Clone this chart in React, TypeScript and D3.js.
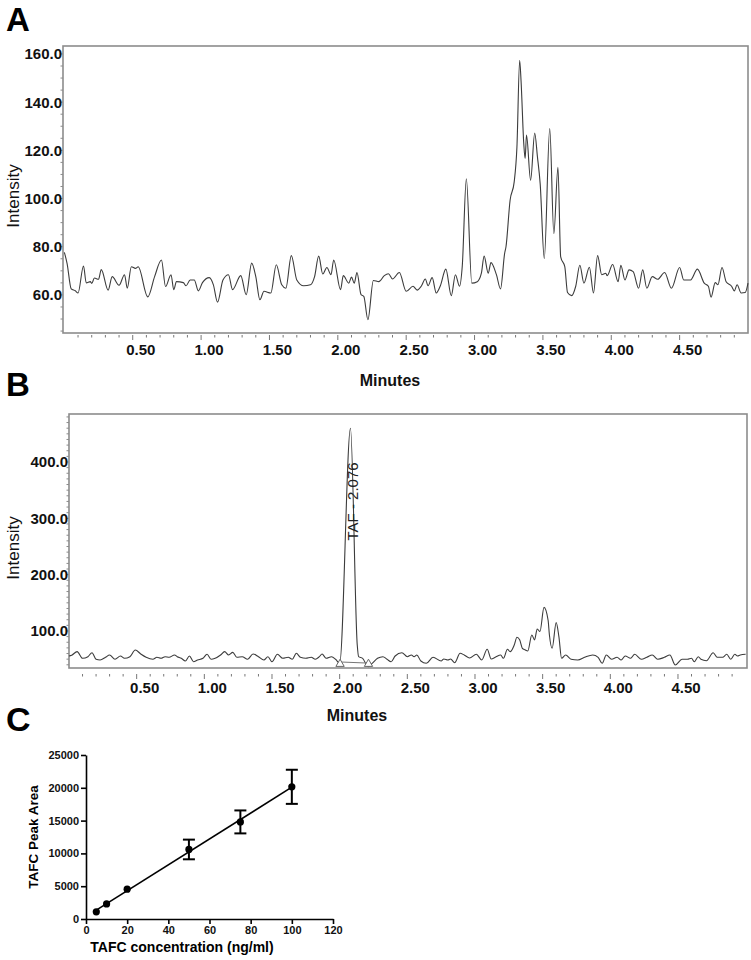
import * as d3 from "d3";
import { useEffect, useRef } from "react";

// panel A: chromatogram of the blank / matrix
const timesA = [0, 0.02, 0.05, 0.08, 0.1, 0.14, 0.16, 0.19, 0.2, 0.22, 0.25, 0.27, 0.32, 0.35, 0.4, 0.44, 0.46, 0.49, 0.52, 0.54, 0.61, 0.66, 0.71, 0.74, 0.78, 0.8, 0.82, 0.87, 0.89, 0.92, 0.95, 0.98, 1.01, 1.06, 1.09, 1.12, 1.16, 1.2, 1.23, 1.29, 1.33, 1.37, 1.4, 1.43, 1.46, 1.51, 1.55, 1.59, 1.62, 1.66, 1.7, 1.75, 1.8, 1.83, 1.86, 1.89, 1.92, 1.95, 1.97, 2.02, 2.04, 2.08, 2.1, 2.12, 2.14, 2.17, 2.19, 2.22, 2.26, 2.3, 2.34, 2.37, 2.4, 2.45, 2.5, 2.55, 2.58, 2.61, 2.64, 2.66, 2.69, 2.72, 2.75, 2.79, 2.83, 2.86, 2.89, 2.91, 2.94, 2.98, 3.02, 3.05, 3.07, 3.1, 3.12, 3.16, 3.19, 3.22, 3.23, 3.26, 3.29, 3.31, 3.33, 3.34, 3.36, 3.37, 3.38, 3.41, 3.44, 3.46, 3.48, 3.51, 3.55, 3.58, 3.61, 3.63, 3.66, 3.68, 3.71, 3.74, 3.77, 3.8, 3.84, 3.87, 3.9, 3.93, 3.96, 3.97, 4.01, 4.05, 4.07, 4.1, 4.13, 4.16, 4.2, 4.23, 4.26, 4.3, 4.34, 4.39, 4.44, 4.5, 4.53, 4.58, 4.63, 4.68, 4.71, 4.73, 4.76, 4.78, 4.81, 4.84, 4.88, 4.9, 4.92, 4.95, 4.98, 5.0];
const intensityA = [77.7, 73, 62.5, 61.7, 60.8, 72, 65, 65.5, 64.8, 67, 66.5, 70.5, 62, 67.6, 64, 68.4, 62.8, 71.7, 71, 71.7, 59.2, 67.6, 74.5, 63.5, 68.4, 62.2, 65.5, 65.1, 63.8, 66.2, 66.2, 61.7, 65.1, 67.2, 64.2, 57, 66.2, 68.4, 62.2, 68, 60.1, 73.2, 67.6, 58, 61.5, 60.8, 72.5, 64.2, 62.8, 76.3, 66.2, 63.8, 64.2, 67.6, 76.1, 68.7, 71.4, 68.4, 74.5, 62.2, 68, 64.9, 67.4, 64.9, 69.3, 60.1, 59.4, 49.7, 66, 65.5, 68, 68.8, 66.6, 69.3, 61.5, 63.6, 62, 63.6, 66.6, 63.8, 67.2, 60.8, 63.8, 70.7, 59.7, 68.4, 63.6, 71.8, 108.2, 64.9, 65.5, 69, 76.1, 69, 73.4, 68.4, 62.5, 77.2, 80, 99.3, 106.9, 121.4, 157.4, 149, 122.8, 116.6, 126.3, 107.6, 127.2, 117.3, 106.2, 75.1, 129, 85.4, 113, 75.8, 71.7, 61, 59.7, 63.6, 72.3, 64.9, 71.5, 60.8, 76.3, 68.4, 69, 68, 72.6, 65.5, 72.3, 66.2, 70.4, 69.7, 62.8, 70.4, 62.8, 67.6, 66.5, 69.3, 62.8, 71.4, 66.2, 66.2, 70.7, 64.9, 63.6, 59.1, 65.1, 64.2, 71.4, 65.5, 63.6, 61.7, 64.2, 60.8, 61, 64.9];

// panel B: spiked sample with the TAF peak
const timesB = [0, 0.02, 0.06, 0.1, 0.14, 0.17, 0.2, 0.23, 0.27, 0.3, 0.34, 0.38, 0.41, 0.45, 0.49, 0.53, 0.57, 0.62, 0.65, 0.68, 0.71, 0.74, 0.78, 0.8, 0.83, 0.86, 0.89, 0.92, 0.95, 0.99, 1.02, 1.05, 1.08, 1.12, 1.15, 1.18, 1.21, 1.24, 1.28, 1.32, 1.36, 1.4, 1.44, 1.47, 1.5, 1.54, 1.58, 1.62, 1.65, 1.68, 1.71, 1.75, 1.79, 1.82, 1.85, 1.87, 1.9, 1.94, 1.97, 2.0, 2.08, 2.13, 2.14, 2.17, 2.21, 2.24, 2.28, 2.32, 2.35, 2.38, 2.41, 2.46, 2.5, 2.53, 2.55, 2.57, 2.6, 2.64, 2.69, 2.75, 2.77, 2.8, 2.82, 2.85, 2.89, 2.92, 2.96, 3.01, 3.05, 3.09, 3.12, 3.15, 3.19, 3.21, 3.24, 3.26, 3.29, 3.31, 3.33, 3.35, 3.37, 3.39, 3.42, 3.44, 3.46, 3.48, 3.51, 3.54, 3.55, 3.57, 3.6, 3.62, 3.64, 3.67, 3.71, 3.76, 3.81, 3.87, 3.91, 3.94, 3.97, 4.01, 4.05, 4.08, 4.11, 4.15, 4.18, 4.23, 4.27, 4.31, 4.35, 4.4, 4.44, 4.48, 4.53, 4.57, 4.6, 4.62, 4.65, 4.67, 4.71, 4.76, 4.79, 4.83, 4.86, 4.89, 4.92, 4.94, 4.96, 5.0];
const intensityB = [55.6, 57, 63.3, 51.5, 54.4, 61.5, 49.8, 48.5, 53.3, 57.4, 49.8, 55.6, 51.5, 54.4, 66.3, 59.2, 53.3, 49.8, 53.3, 51.5, 54.4, 53.3, 57.4, 54.4, 51.5, 46.7, 55.6, 45.5, 48.5, 51.5, 58.6, 49.8, 51.5, 57.4, 63.3, 57.4, 62, 53.3, 54.4, 49.8, 59.2, 54.4, 48.5, 54.4, 45.5, 58.6, 51.5, 53.3, 49.8, 60.4, 53.3, 51.5, 53.3, 49.8, 54.4, 59.2, 51.5, 54.4, 49.8, 42.6, 460, 75, 54.4, 51.5, 36.6, 42.6, 51.5, 54.4, 49.8, 45.5, 55.6, 61.5, 54.4, 57.4, 54.4, 57.4, 46.7, 42.6, 53.3, 46.7, 50.4, 48.5, 50.4, 43.7, 60.4, 57.4, 52.1, 58.6, 48.5, 67.5, 50.4, 53.3, 57.4, 51.5, 67.5, 63.3, 75.1, 88.8, 84.3, 69.3, 66.5, 64.5, 92.9, 84.3, 103.6, 99, 142, 119.5, 92.9, 69.3, 114.8, 90, 51.5, 57.4, 49.8, 48.5, 53.3, 57.4, 53.3, 42.6, 57.4, 49.8, 53.3, 48.5, 55.6, 51.5, 58.6, 49.8, 53.3, 57.4, 49.8, 53.3, 57.4, 39.6, 49.8, 49.8, 51.5, 45.5, 54.4, 49.8, 47.3, 61.5, 53.3, 53.3, 58.6, 49.8, 58.6, 55.6, 57.4, 58.6];

const ticksA = [60, 80, 100, 120, 140, 160];
const ticksB = [100, 200, 300, 400];
const minuteTicks = [0.5, 1, 1.5, 2, 2.5, 3, 3.5, 4, 4.5];

const peakLabel = "TAF - 2.076";
const peakTime = 2.08;
const peakLimits = [2.003, 2.213];
const peakBase = [45, 43];

// panel C: calibration curve
const concentrations = [5, 10, 20, 50, 75, 100];
const peakAreas = [1100, 2300, 4550, 10600, 14800, 20150];
const peakAreaErr = [0, 0, 0, 1500, 1750, 2600];
const concTicks = [0, 20, 40, 60, 80, 100, 120];
const areaTicks = [0, 5000, 10000, 15000, 20000, 25000];

const FONT = "'Liberation Sans', Arial, sans-serif";

const drawChromatogram = (svg, cfg) => {
    const x = d3.scaleLinear().domain(cfg.xDomain).range([cfg.left, cfg.right]);
    const y = d3.scaleLinear().domain(cfg.yDomain).range([cfg.bottom, cfg.top]);
    const g = svg.append("g");

    // minor y ticks (dotted look on the left edge)
    g.append("g")
        .selectAll("line")
        .data(d3.range(cfg.minorStart, cfg.yDomain[1], cfg.minorStep))
        .join("line")
        .attr("x1", cfg.left - 2.5).attr("x2", cfg.left)
        .attr("y1", (d) => y(d)).attr("y2", (d) => y(d))
        .attr("stroke", "#8a8a8a").attr("stroke-width", 1);

    // minute ticks
    const minor = d3.range(1, 50).map((i) => ({ t: i / 10, major: i % 5 === 0 }));
    g.append("g")
        .selectAll("line")
        .data(minor)
        .join("line")
        .attr("x1", (d) => x(d.t)).attr("x2", (d) => x(d.t))
        .attr("y1", cfg.bottom + cfg.tickGap)
        .attr("y2", (d) => cfg.bottom + cfg.tickGap + (d.major ? 5 : 2.5))
        .attr("stroke", "#777").attr("stroke-width", 1);

    // frame
    g.append("rect")
        .attr("x", cfg.left).attr("y", cfg.top)
        .attr("width", cfg.right - cfg.left).attr("height", cfg.bottom - cfg.top)
        .attr("fill", "none").attr("stroke", "#8c8c8c").attr("stroke-width", 1.6);

    // trace
    const line = d3.line()
        .x((d) => x(d[0]))
        .y((d) => y(d[1]))
        .curve(d3.curveMonotoneX);
    g.append("path")
        .datum(cfg.times.map((t, i) => [t, cfg.values[i]]))
        .attr("d", line)
        .attr("fill", "none")
        .attr("stroke", "#3c3c3c")
        .attr("stroke-width", 1.1);

    // y labels
    g.append("g")
        .selectAll("text")
        .data(cfg.yTicks)
        .join("text")
        .attr("x", cfg.left - 1)
        .attr("y", (d) => y(d))
        .attr("dy", "0.36em")
        .attr("text-anchor", "end")
        .attr("font-family", FONT).attr("font-size", 15).attr("font-weight", "bold")
        .attr("fill", "#111")
        .text((d) => d3.format(".1f")(d));

    // x labels
    g.append("g")
        .selectAll("text")
        .data(minuteTicks)
        .join("text")
        .attr("x", (d) => x(d) + 8)
        .attr("y", cfg.bottom + cfg.labelOffset)
        .attr("text-anchor", "middle")
        .attr("font-family", FONT).attr("font-size", 15).attr("font-weight", "bold")
        .attr("fill", "#111")
        .text((d) => d3.format(".2f")(d));

    g.append("text")
        .attr("x", cfg.titleX).attr("y", cfg.bottom + 53)
        .attr("text-anchor", "middle")
        .attr("font-family", FONT).attr("font-size", 16).attr("font-weight", "bold")
        .attr("fill", "#111")
        .text("Minutes");

    g.append("text")
        .attr("transform", `translate(${cfg.intensityX},${cfg.intensityY}) rotate(-90)`)
        .attr("text-anchor", "middle")
        .attr("dy", "0.36em")
        .attr("font-family", FONT).attr("font-size", 17)
        .attr("fill", "#111")
        .text("Intensity");

    g.append("text")
        .attr("x", 6).attr("y", cfg.letterY)
        .attr("font-family", FONT).attr("font-size", 33).attr("font-weight", "bold")
        .attr("fill", "#000")
        .text(cfg.letter);

    return { x, y, g };
};

const App = () => {
    const ref = useRef(null);

    useEffect(() => {
        const svg = d3.select(ref.current);
        svg.selectAll("*").remove();
        drawChart(svg);
    }, []);

    const drawChart = (svg) => {
        svg.append("rect").attr("width", 751).attr("height", 960).attr("fill", "#fff");

        drawChromatogram(svg, {
            times: timesA, values: intensityA,
            xDomain: [-0.01, 5.0], yDomain: [44.2, 163.3],
            left: 63, right: 748, top: 46, bottom: 333,
            yTicks: ticksA, minorStart: 45, minorStep: 5,
            tickGap: 2, labelOffset: 22,
            titleX: 390, intensityX: 13, intensityY: 196,
            letter: "A", letterY: 31,
        });

        const b = drawChromatogram(svg, {
            times: timesB, values: intensityB,
            xDomain: [0, 5.01], yDomain: [34.3, 485.2],
            left: 69, right: 747, top: 414, bottom: 668,
            yTicks: ticksB, minorStart: 40, minorStep: 10,
            tickGap: 6, labelOffset: 25,
            titleX: 357, intensityX: 13, intensityY: 548,
            letter: "B", letterY: 396,
        });

        // integration baseline and peak markers
        b.g.append("line")
            .attr("x1", b.x(peakLimits[0])).attr("x2", b.x(peakLimits[1]))
            .attr("y1", b.y(peakBase[0])).attr("y2", b.y(peakBase[1]))
            .attr("stroke", "#777").attr("stroke-width", 1);
        b.g.append("g")
            .selectAll("path")
            .data(peakLimits)
            .join("path")
            .attr("d", d3.symbol(d3.symbolTriangle, 30))
            .attr("transform", (d) => `translate(${b.x(d)},${664})`)
            .attr("fill", "#fff").attr("stroke", "#666").attr("stroke-width", 1);
        b.g.append("text")
            .attr("transform", `translate(${b.x(peakTime) + 2},${b.y(330)}) rotate(-90)`)
            .attr("text-anchor", "middle")
            .attr("dy", "0.36em")
            .attr("font-family", FONT).attr("font-size", 15)
            .attr("fill", "#222")
            .text(peakLabel);

        // panel C
        const xC = d3.scaleLinear().domain([0, 120]).range([86, 333]);
        const yC = d3.scaleLinear().domain([0, 25000]).range([919, 755]);
        const c = svg.append("g");

        c.append("text")
            .attr("x", 6).attr("y", 731)
            .attr("font-family", FONT).attr("font-size", 34).attr("font-weight", "bold")
            .text("C");

        const xAxis = c.append("g")
            .attr("transform", "translate(0,919)")
            .call(d3.axisBottom(xC).tickValues(concTicks).tickSize(5).tickSizeOuter(0).tickPadding(2));
        const yAxis = c.append("g")
            .attr("transform", "translate(86,0)")
            .call(d3.axisLeft(yC).tickValues(areaTicks).tickSize(5).tickSizeOuter(0).tickPadding(2).tickFormat(d3.format("d")));
        [xAxis, yAxis].forEach((ax) => {
            ax.selectAll("path, line").attr("stroke", "#000").attr("stroke-width", 1.6);
            ax.selectAll("text")
                .attr("font-family", FONT).attr("font-size", 11).attr("font-weight", "bold")
                .attr("fill", "#111");
        });

        c.append("text")
            .attr("x", 182).attr("y", 952)
            .attr("text-anchor", "middle")
            .attr("font-family", FONT).attr("font-size", 14).attr("font-weight", "bold")
            .text("TAFC concentration (ng/ml)");
        c.append("text")
            .attr("transform", "translate(33,837) rotate(-90)")
            .attr("text-anchor", "middle")
            .attr("dy", "0.36em")
            .attr("font-family", FONT).attr("font-size", 13.5).attr("font-weight", "bold")
            .text("TAFC Peak Area");

        // least squares line through the means
        const mx = d3.mean(concentrations);
        const my = d3.mean(peakAreas);
        const slope = d3.sum(concentrations, (v, i) => (v - mx) * (peakAreas[i] - my)) /
            d3.sum(concentrations, (v) => (v - mx) * (v - mx));
        const icpt = my - slope * mx;
        const ext = d3.extent(concentrations);
        c.append("line")
            .attr("x1", xC(ext[0])).attr("y1", yC(icpt + slope * ext[0]))
            .attr("x2", xC(ext[1])).attr("y2", yC(icpt + slope * ext[1]))
            .attr("stroke", "#000").attr("stroke-width", 1.6);

        const pts = concentrations.map((v, i) => ({ x: v, y: peakAreas[i], e: peakAreaErr[i] }));
        const withErr = pts.filter((d) => d.e > 0);
        const bars = c.append("g").selectAll("g").data(withErr).join("g");
        bars.append("line")
            .attr("x1", (d) => xC(d.x)).attr("x2", (d) => xC(d.x))
            .attr("y1", (d) => yC(d.y - d.e)).attr("y2", (d) => yC(d.y + d.e))
            .attr("stroke", "#000").attr("stroke-width", 2);
        bars.selectAll(".cap")
            .data((d) => [{ x: d.x, y: d.y - d.e }, { x: d.x, y: d.y + d.e }])
            .join("line")
            .attr("class", "cap")
            .attr("x1", (d) => xC(d.x) - 6).attr("x2", (d) => xC(d.x) + 6)
            .attr("y1", (d) => yC(d.y)).attr("y2", (d) => yC(d.y))
            .attr("stroke", "#000").attr("stroke-width", 2);
        c.append("g")
            .selectAll("circle")
            .data(pts)
            .join("circle")
            .attr("cx", (d) => xC(d.x)).attr("cy", (d) => yC(d.y))
            .attr("r", 3.6)
            .attr("fill", "#000");
    };

    return (
        <svg
            ref={ref}
            width={751}
            height={960}
            style={{ position: "absolute", left: 0, top: 0 }}
        />
    );
};

export default App;
